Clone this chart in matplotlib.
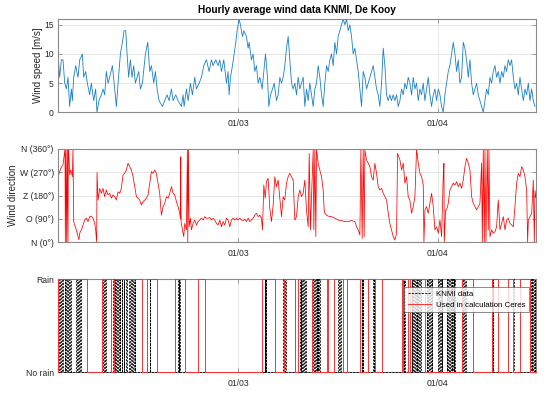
import matplotlib
matplotlib.use('Agg')
import matplotlib.pyplot as plt
import numpy as np

plt.rcParams['font.family'] = ['Liberation Sans', 'DejaVu Sans']

# time axis: days since 01/02 00:00
x_limits = [0, 74.25]
date_ticks = [28, 59]
date_labels = ['01/03', '01/04']

# ---- wind speed [m/s] ----
speed_t1 = [0.00, 0.26, 0.52, 0.78, 1.04, 1.30, 1.55, 1.81, 2.07, 2.23,
            2.44, 2.75, 3.11, 3.37, 3.78, 3.99, 4.30, 4.56, 4.92, 5.18,
            5.54, 5.85, 6.06, 6.37, 6.74, 6.99, 7.25, 7.51, 7.77, 8.03,
            8.45, 8.81, 9.07, 9.33, 9.69, 10.00, 10.26, 10.52, 10.73, 10.98,
            11.24, 11.50, 11.76, 12.02, 12.28, 12.54, 12.80, 13.11, 13.58, 13.94,
            14.25, 14.51, 14.87, 15.13, 15.39, 15.70, 16.22, 16.58, 16.94, 17.25,
            17.62, 17.88, 18.29, 18.65, 19.17, 19.43, 19.59, 19.95, 20.21, 20.57,
            20.88, 21.24, 21.50, 21.92, 22.28, 22.64, 23.06, 23.47, 23.83, 24.09,
            24.51, 24.87, 25.13, 25.39, 25.75, 26.17, 26.42, 26.58, 26.79, 27.10,
            27.36, 27.62, 27.82, 28.13, 28.34, 28.65, 28.86, 29.27, 29.53, 29.69,
            30.05, 30.31, 30.57, 30.83, 31.09, 31.35, 31.71, 32.23, 32.54, 32.75,
            33.01, 33.32, 33.58]
speed_v1 = [10, 6, 9, 9, 5, 4, 6, 1, 4, 2,
            6, 8, 6, 9, 10, 6, 7, 5, 3, 5,
            2, 4, 0, 2, 3, 4, 3, 7, 5, 6,
            8, 4, 1, 5, 10, 12, 14, 14, 10, 6,
            9, 6, 8, 5, 6, 7, 4, 5, 10, 12,
            7, 8, 5, 7, 4, 2, 1, 2, 3, 2,
            4, 2, 3, 2, 1, 3, 1, 4, 2, 5,
            3, 6, 4, 5, 6, 8, 9, 7, 9, 8,
            9, 8, 9, 7, 9, 5, 7, 3, 6, 8,
            10, 12, 14, 16, 15, 13, 14, 13, 11, 12,
            9, 10, 7, 8, 5, 6, 4, 10, 6, 1,
            3, 4, 5]
speed_t2_range = [33.94, 74.09]
speed_v2 = [2, 3, 6, 5, 6, 8, 11, 13, 9, 5, 4, 5, 3, 6, 4, 5, 6, 1, 4, 2,
            5, 3, 1, 4, 5, 8, 6, 3, 1, 5, 8, 7, 9, 10, 8, 12, 10, 13, 14, 15,
            16, 15, 16, 14, 15, 13, 10, 11, 9, 7, 4, 1, 7, 6, 4, 5, 6, 7, 8, 6,
            4, 3, 1, 5, 11, 8, 3, 2, 3, 2, 3, 2, 3, 1, 2, 4, 3, 5, 4, 6,
            5, 3, 6, 4, 5, 2, 4, 3, 5, 2, 4, 6, 3, 1, 3, 4, 2, 4, 3, 1,
            0, 3, 5, 7, 8, 10, 12, 10, 7, 9, 5, 6, 12, 11, 9, 6, 9, 5, 3, 4,
            5, 3, 2, 1, 0, 2, 4, 3, 6, 5, 7, 8, 6, 7, 5, 7, 6, 8, 7, 9,
            8, 9, 6, 4, 5, 3, 6, 4, 2, 4, 3, 5, 2, 4, 2, 1]

# ---- wind direction [deg] ----
dir_t = [0.00, 0.26, 0.52, 0.78, 0.93, 1.09, 1.14, 1.24, 1.35, 1.45, 1.55, 1.61, 1.71, 1.81,
         1.97, 2.12, 2.23, 2.33, 2.44, 2.59, 2.85, 3.11, 3.26, 3.37, 3.63, 3.89, 4.15, 4.40,
         4.66, 4.92, 5.18, 5.44, 5.70, 5.85, 6.01, 6.06, 6.22, 6.48, 6.74, 6.99, 7.25, 7.51,
         7.77, 8.03, 8.29, 8.55, 8.81, 9.07, 9.33, 9.59, 9.84, 10.10, 10.36, 10.62, 10.88,
         11.14, 11.40, 11.66, 11.92, 12.18, 12.44, 12.69, 12.95, 13.21, 13.47, 13.73, 13.99,
         14.25, 14.51, 14.77, 15.03, 15.28, 15.54, 15.80, 16.06, 16.32, 16.58, 16.84, 17.10,
         17.36, 17.62, 17.88, 18.13, 18.39, 18.65, 18.91, 19.02, 19.07, 19.12, 19.33, 19.53,
         19.69, 19.95, 20.10, 20.16, 20.26, 20.36, 20.57, 20.73, 20.98, 21.24, 21.50, 21.76,
         22.02, 22.28, 22.54, 22.80, 23.06, 23.32, 23.58, 23.83, 24.09, 24.35, 24.61, 24.87,
         25.13, 25.39, 25.65, 25.91, 26.17, 26.42, 26.68, 26.94, 27.20, 27.46, 27.72, 27.98,
         28.24, 28.50, 28.76, 29.02, 29.27, 29.53, 29.79, 30.05, 30.31, 30.57, 30.83, 31.09,
         31.35, 31.61, 31.76, 31.97, 32.18, 32.38, 32.64, 32.90, 33.16, 33.42, 33.68, 33.94,
         34.20, 34.46, 34.72, 34.97, 35.23, 35.49, 35.75, 36.01, 36.27, 36.53, 36.79, 37.05,
         37.31, 37.56, 37.82, 38.08, 38.34, 38.60, 38.86, 39.02, 39.22, 39.38, 39.64, 39.74,
         39.90, 40.05, 40.16, 40.41, 40.67, 40.93, 41.19, 41.35, 41.45, 41.71, 41.97, 42.49,
         43.01, 43.52, 44.04, 44.56, 45.08, 45.60, 46.11, 46.37, 46.63, 46.89, 47.05, 47.25,
         47.41, 47.56, 47.67, 47.93, 48.19, 48.45, 48.70, 48.96, 49.22, 49.48, 49.74, 50.00,
         50.26, 50.52, 50.78, 51.04, 51.30, 51.55, 51.81, 52.07, 52.33, 52.59, 52.75, 53.11,
         53.37, 53.63, 53.89, 54.15, 54.40, 54.66, 54.92, 55.18, 55.44, 55.70, 55.96, 56.22,
         56.48, 56.74, 56.84, 57.00, 57.25, 57.51, 57.77, 58.03, 58.29, 58.55, 58.81, 59.07,
         59.33, 59.59, 59.84, 59.95, 60.00, 60.21, 60.36, 60.62, 60.88, 61.14, 61.40, 61.66,
         61.92, 62.18, 62.44, 62.69, 62.95, 63.21, 63.47, 63.73, 63.99, 64.25, 64.51, 64.77,
         65.03, 65.28, 65.54, 65.80, 65.91, 66.06, 66.22, 66.32, 66.48, 66.68, 66.84, 66.94,
         67.10, 67.36, 67.62, 67.88, 68.13, 68.39, 68.65, 68.91, 69.17, 69.43, 69.69, 69.95,
         70.21, 70.47, 70.73, 70.98, 71.24, 71.50, 71.76, 72.02, 72.28, 72.54, 72.80, 72.95,
         73.06, 73.32, 73.58, 73.83, 73.99, 74.09, 74.25]
dir_v = [253, 273, 290, 300, 330, 360, 0, 360, 0, 360, 0, 360, 330, 260,
         279, 266, 253, 360, 80, 67, 48, 22, 10, 35, 48, 67, 86, 93,
         80, 99, 101, 93, 73, 48, 0, 269, 163, 208, 189, 208, 176, 202,
         183, 189, 170, 183, 176, 163, 195, 189, 208, 260, 266, 279, 305,
         292, 279, 253, 215, 176, 170, 163, 144, 157, 163, 170, 183,
         228, 273, 266, 279, 266, 228, 189, 105, 138, 150, 176, 170,
         189, 215, 189, 183, 157, 138, 112, 90, 330, 80, 48, 22,
         73, 48, 360, 0, 360, 60, 93, 48, 73, 86, 67, 80,
         86, 93, 86, 99, 93, 93, 96, 86, 93, 86, 73, 67,
         86, 60, 80, 67, 93, 86, 60, 86, 93, 86, 93, 86,
         93, 86, 84, 89, 80, 93, 80, 86, 93, 105, 112, 99,
         105, 93, 48, 221, 170, 234, 247, 131, 80, 144, 253, 215,
         240, 170, 99, 176, 163, 228, 253, 266, 253, 240, 86, 99,
         176, 202, 176, 189, 240, 125, 60, 343, 48, 176, 356, 48,
         360, 22, 360, 305, 279, 253, 202, 125, 112, 105, 101, 99,
         93, 86, 84, 80, 80, 84, 80, 60, 48, 28, 356, 15,
         360, 22, 356, 318, 305, 292, 253, 240, 305, 266, 215, 202,
         208, 189, 176, 163, 112, 73, 48, 22, 9, 35, 343, 318,
         279, 305, 228, 253, 176, 163, 112, 138, 176, 360, 305, 266,
         253, 220, 0, 125, 138, 112, 150, 189, 138, 48, 60, 35,
         86, 22, 253, 305, 0, 125, 125, 150, 202, 215, 228, 221,
         234, 215, 228, 208, 240, 292, 324, 305, 279, 176, 150, 138,
         125, 138, 150, 305, 0, 360, 0, 356, 0, 360, 48, 360,
         22, 48, 35, 41, 60, 163, 48, 73, 99, 48, 86, 93,
         73, 67, 60, 138, 228, 266, 253, 292, 279, 253, 200, 0,
         86, 99, 112, 240, 0, 200, 170]
dir_ticks = [0, 90, 180, 270, 360]
dir_labels = ['N (0°)', 'O (90°)', 'Z (180°)', 'W (270°)', 'N (360°)']

# ---- rain (1 = rain) : intervals [start, end] in days ----
ceres_start = [0.00, 6.84, 8.65, 13.89, 18.24, 21.76, 31.71, 35.13, 37.31, 41.71,
               42.90, 44.82, 48.19, 50.26, 53.63, 54.66, 62.69, 67.36, 69.95, 71.76]
ceres_end = [4.56, 8.19, 13.06, 15.44, 19.79, 22.80, 33.68, 36.79, 39.38, 41.97,
             44.30, 46.89, 49.22, 53.37, 54.40, 56.99, 64.51, 68.29, 70.73, 73.32]
knmi_start = [0.00, 0.30, 0.62, 1.04, 1.30, 1.61, 1.92, 2.85, 3.16, 3.42,
              7.06, 7.25, 8.55, 8.81, 9.07, 9.33, 9.59, 9.90, 10.21, 10.62,
              11.04, 11.30, 11.66, 11.92, 14.25, 18.65, 18.81, 32.13, 32.28,
              34.97, 35.23, 35.39, 37.56, 37.82, 38.08, 38.34, 39.64, 39.74,
              39.90, 40.05, 40.16, 40.36, 40.51, 43.52, 43.78, 47.15, 47.30,
              48.96, 49.12, 53.63, 53.79, 54.92, 55.18, 55.44, 55.70, 55.96,
              56.22, 57.25, 57.51, 57.77, 58.03, 59.07, 59.33, 59.59, 60.36,
              60.62, 60.88, 61.14, 61.40, 61.56, 62.69, 62.95, 63.21, 67.36,
              67.51, 70.73, 73.32, 73.58, 73.83, 74.04]
knmi_end = [0.15, 0.47, 0.73, 1.14, 1.45, 1.71, 2.02, 3.01, 3.26, 3.58,
            7.15, 7.41, 8.65, 8.91, 9.17, 9.43, 9.69, 10.00, 10.31, 10.73,
            11.14, 11.45, 11.76, 12.02, 14.35, 18.75, 18.91, 32.23, 32.38,
            35.08, 35.39, 35.49, 37.67, 37.93, 38.18, 38.50, 39.74, 39.84,
            40.00, 40.10, 40.26, 40.46, 40.67, 43.63, 43.89, 47.25, 47.41,
            49.07, 49.22, 53.73, 53.89, 55.03, 55.28, 55.54, 55.80, 56.06,
            56.32, 57.36, 57.61, 57.87, 58.13, 59.17, 59.43, 59.69, 60.46,
            60.72, 60.98, 61.24, 61.50, 61.66, 62.80, 63.06, 63.32, 67.46,
            67.62, 70.83, 73.42, 73.68, 73.94, 74.14]
rain_ticks = [0, 1]
rain_labels = ['No rain', 'Rain']


def step_series(starts, ends, t0, t1):
    xs, ys = [t0], [0]
    for s, e in zip(starts, ends):
        xs += [s, s, e, e]
        ys += [0, 1, 1, 0]
    xs.append(t1)
    ys.append(0)
    return xs, ys


fig = plt.figure(figsize=(5.5, 3.94), dpi=100)
W, H = 550.0, 394.0
left, right = 58.0, 536.0
panels = [(19.0, 112.3), (149.0, 242.3), (279.3, 372.3)]
axes = []
for top, bot in panels:
    ax = fig.add_axes([left / W, 1 - bot / H, (right - left) / W, (bot - top) / H])
    axes.append(ax)

edge_col = '#8a8a8a'
for ax in axes:
    ax.set_xlim(x_limits)
    ax.set_xticks(date_ticks)
    ax.set_xticklabels(date_labels)
    ax.tick_params(direction='in', length=3, width=0.6, colors='#8a8a8a',
                   labelcolor='#262626', labelsize=6.2, top=True, right=True, pad=3)
    ax.tick_params(axis='x', pad=4.5)
    for sp in ax.spines.values():
        sp.set_color(edge_col)
        sp.set_linewidth(0.8)
    ax.grid(True, color='#e3e3e3', linewidth=0.6)
    ax.set_axisbelow(True)

ax1, ax2, ax3 = axes
speed_t2 = np.linspace(speed_t2_range[0], speed_t2_range[1], len(speed_v2))
ax1.plot(list(speed_t1) + list(speed_t2), list(speed_v1) + list(speed_v2),
         color='#1a80c8', lw=0.6)
ax1.set_ylim(0, 16)
ax1.set_yticks([0, 5, 10, 15])
ax1.set_ylabel('Wind speed [m/s]', fontsize=7, color='#262626', labelpad=1)
ax1.set_title('Hourly average wind data KNMI, De Kooy', fontsize=7.3,
              fontweight='bold', color='#000000', pad=4)

ax2.plot(dir_t, dir_v, color='#ff0000', lw=0.55)
ax2.set_ylim(0, 360)
ax2.set_yticks(dir_ticks)
ax2.set_yticklabels(dir_labels)
ax2.set_ylabel('Wind direction', fontsize=7, color='#262626', labelpad=1)

kx, ky = step_series(knmi_start, knmi_end, x_limits[0], x_limits[1])
cx, cy = step_series(ceres_start, ceres_end, x_limits[0], x_limits[1])
ax3.plot(kx, ky, color='black', lw=0.6, ls=(0, (2.5, 1.5)), label='KNMI data',
         zorder=3, clip_on=False)
ax3.plot(cx, cy, color='#ff3030', lw=0.7, label='Used in calculation Ceres',
         zorder=4, clip_on=False)
ax3.set_ylim(0, 1)
ax3.set_yticks(rain_ticks)
ax3.set_yticklabels(rain_labels)
ax3.grid(False)
ax3.grid(True, axis='x', color='#e3e3e3', linewidth=0.6)
leg = ax3.legend(loc='upper right', bbox_to_anchor=(0.985, 0.917), borderaxespad=0,
                 fontsize=5.7, frameon=True, fancybox=False, edgecolor='#555555',
                 handlelength=2.9, handletextpad=0.6, borderpad=0.45, labelspacing=0.4)
leg.get_frame().set_linewidth(0.6)
leg.set_zorder(10)

fig.savefig('out.png', dpi=100)
